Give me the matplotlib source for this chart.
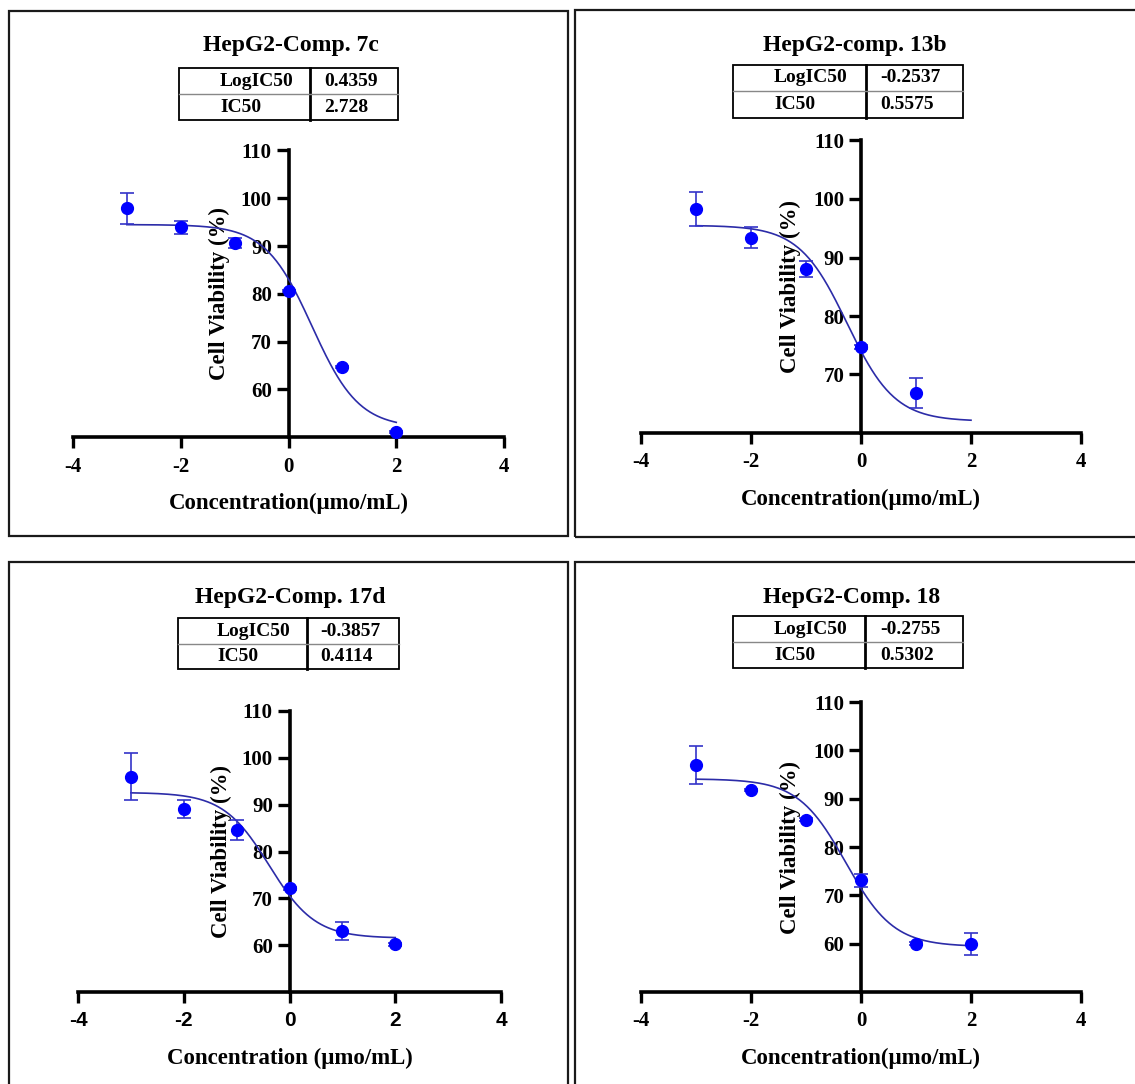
import numpy as np
import matplotlib.pyplot as plt
from matplotlib.patches import Rectangle
from matplotlib.lines import Line2D

plt.rcParams['font.family'] = ['Liberation Serif', 'DejaVu Serif']
plt.rcParams['font.weight'] = 'bold'
plt.rcParams['axes.unicode_minus'] = False

W, H = 1135, 1084

# ---- data ----
titles = ['HepG2-Comp. 7c', 'HepG2-comp. 13b', 'HepG2-Comp. 17d', 'HepG2-Comp. 18']
log_ic50 = ['0.4359', '-0.2537', '-0.3857', '-0.2755']
ic50 = ['2.728', '0.5575', '0.4114', '0.5302']
xlabels = ['Concentration(μmo/mL)', 'Concentration(μmo/mL)',
           'Concentration (μmo/mL)', 'Concentration(μmo/mL)']

# log concentration, viability (%), SD
conc_7c = [-3, -2, -1, 0, 1, 2]
via_7c = [97.9, 93.9, 90.6, 80.6, 64.7, 51.1]
err_7c = [3.2, 1.4, 1.0, 0.3, 0.3, 0.3]

conc_13b = [-3, -2, -1, 0, 1]
via_13b = [98.3, 93.4, 88.0, 74.7, 66.8]
err_13b = [2.9, 1.8, 1.4, 0.3, 2.6]

conc_17d = [-3, -2, -1, 0, 1, 2]
via_17d = [96.0, 89.1, 84.6, 72.1, 63.1, 60.2]
err_17d = [5.0, 2.0, 2.2, 0.3, 1.9, 0.3]

conc_18 = [-3, -2, -1, 0, 1, 2]
via_18 = [96.9, 91.8, 85.6, 73.1, 60.0, 59.9]
err_18 = [3.9, 0.3, 0.3, 1.4, 0.3, 2.3]

# fitted 4PL parameters: top, bottom, logIC50, hill slope
fit_7c = [94.5, 52.0, 0.4359, 1.0]
fit_13b = [95.5, 62.0, -0.2537, 1.0]
fit_17d = [92.6, 61.5, -0.3857, 1.0]
fit_18 = [94.1, 59.4, -0.2755, 1.0]

yticks_7c = [60, 70, 80, 90, 100, 110]
yticks_13b = [70, 80, 90, 100, 110]
yticks_17d = [60, 70, 80, 90, 100, 110]
yticks_18 = [60, 70, 80, 90, 100, 110]
xticks = [-4, -2, 0, 2, 4]

conc = [conc_7c, conc_13b, conc_17d, conc_18]
via = [via_7c, via_13b, via_17d, via_18]
err = [err_7c, err_13b, err_17d, err_18]
fits = [fit_7c, fit_13b, fit_17d, fit_18]
yticks = [yticks_7c, yticks_13b, yticks_17d, yticks_18]
ylims = [(50, 110), (60, 110), (50, 110), (50, 110)]

# ---- layout (pixels) ----
axes_px = [(73, 150.5, 504, 437.3), (641, 140.5, 1081, 433),
           (78, 711, 501, 992), (641, 702, 1081, 992)]
boxes_px = [(9, 11, 568, 536), (575, 10, 1145, 537),
            (9, 562, 568, 1095), (575, 562, 1145, 1095)]
title_px = [(291, 46), (855, 46), (290, 597), (852, 597)]
# x0, y0, xsplit, x1, ysplit, y1, text1 x, text2 x
table_px = [(179, 68, 310, 398, 94, 120, 220, 324),
            (733, 65, 866, 963, 91, 118, 774, 880),
            (178, 618, 307, 399, 644, 669, 217, 320),
            (733, 616, 865, 963, 642, 668, 774, 880)]


def fx(x):
    return x / W


def fy(y):
    return 1 - y / H


fig = plt.figure(figsize=(W / 100, H / 100), dpi=100)
fig.patch.set_facecolor('white')

for i in range(4):
    bx0, by0, bx1, by1 = boxes_px[i]
    fig.add_artist(Rectangle((fx(bx0), fy(by1)), fx(bx1 - bx0), (by1 - by0) / H,
                             transform=fig.transFigure, fill=False,
                             edgecolor='#1a1a1a', linewidth=1.6))

    tx, ty = title_px[i]
    fig.text(fx(tx), fy(ty), titles[i], ha='center', va='center', fontsize=17)

    x0, y0, xs, x1, ys, y1, t1, t2 = table_px[i]
    fig.add_artist(Rectangle((fx(x0), fy(y1)), fx(x1 - x0), (y1 - y0) / H,
                             transform=fig.transFigure, fill=False,
                             edgecolor='black', linewidth=1.3))
    fig.add_artist(Line2D([fx(xs), fx(xs)], [fy(y0), fy(y1)],
                          transform=fig.transFigure, color='black', linewidth=2.0))
    fig.add_artist(Line2D([fx(x0), fx(x1)], [fy(ys), fy(ys)],
                          transform=fig.transFigure, color='#888888', linewidth=1.0))
    fig.text(fx(t1), fy((y0 + ys) / 2), 'LogIC50', ha='left', va='center', fontsize=14)
    fig.text(fx(t2), fy((y0 + ys) / 2), log_ic50[i], ha='left', va='center', fontsize=14)
    fig.text(fx(t1), fy((ys + y1) / 2), 'IC50', ha='left', va='center', fontsize=14)
    fig.text(fx(t2), fy((ys + y1) / 2), ic50[i], ha='left', va='center', fontsize=14)

    ax0, ay0, ax1, ay1 = axes_px[i]
    ax = fig.add_axes([fx(ax0), fy(ay1), fx(ax1 - ax0), (ay1 - ay0) / H])
    ax.patch.set_alpha(0)
    ax.set_xlim(-4, 4)
    ax.set_ylim(*ylims[i])

    top, bottom, lic, hill = fits[i]
    xs_fit = np.linspace(-3, 2, 300)
    ys_fit = bottom + (top - bottom) / (1 + 10 ** ((xs_fit - lic) * hill))
    ax.plot(xs_fit, ys_fit, color='#2c2ca8', linewidth=1.2, zorder=3, clip_on=False)
    ax.errorbar(conc[i], via[i], yerr=err[i], fmt='o', color='#0000ff',
                ecolor='#3434c8', elinewidth=1.2, capsize=5, capthick=1.2,
                markersize=8.5, zorder=4, clip_on=False)

    ax.spines['top'].set_visible(False)
    ax.spines['right'].set_visible(False)
    ax.spines['left'].set_position(('data', 0))
    for s in ('left', 'bottom'):
        ax.spines[s].set_linewidth(2.6)
    ax.set_xticks(xticks)
    ax.set_yticks(yticks[i])
    ax.tick_params(axis='both', direction='out', width=2.4, labelsize=15)
    ax.tick_params(axis='y', length=9, pad=3)
    ax.tick_params(axis='x', length=8, pad=6)
    if i == 2:
        for lab in ax.get_xticklabels():
            lab.set_fontfamily('Liberation Sans')
            lab.set_fontweight('bold')

    ax.text(0.34, 0.5, 'Cell Viability (%)', transform=ax.transAxes,
            rotation=90, ha='center', va='center', fontsize=16.5, zorder=1)
    ax.annotate(xlabels[i], xy=(0.5, 0), xycoords='axes fraction',
                xytext=(0, -66), textcoords='offset pixels',
                ha='center', va='center', fontsize=16.5)

fig.savefig('out.png', dpi=100)
